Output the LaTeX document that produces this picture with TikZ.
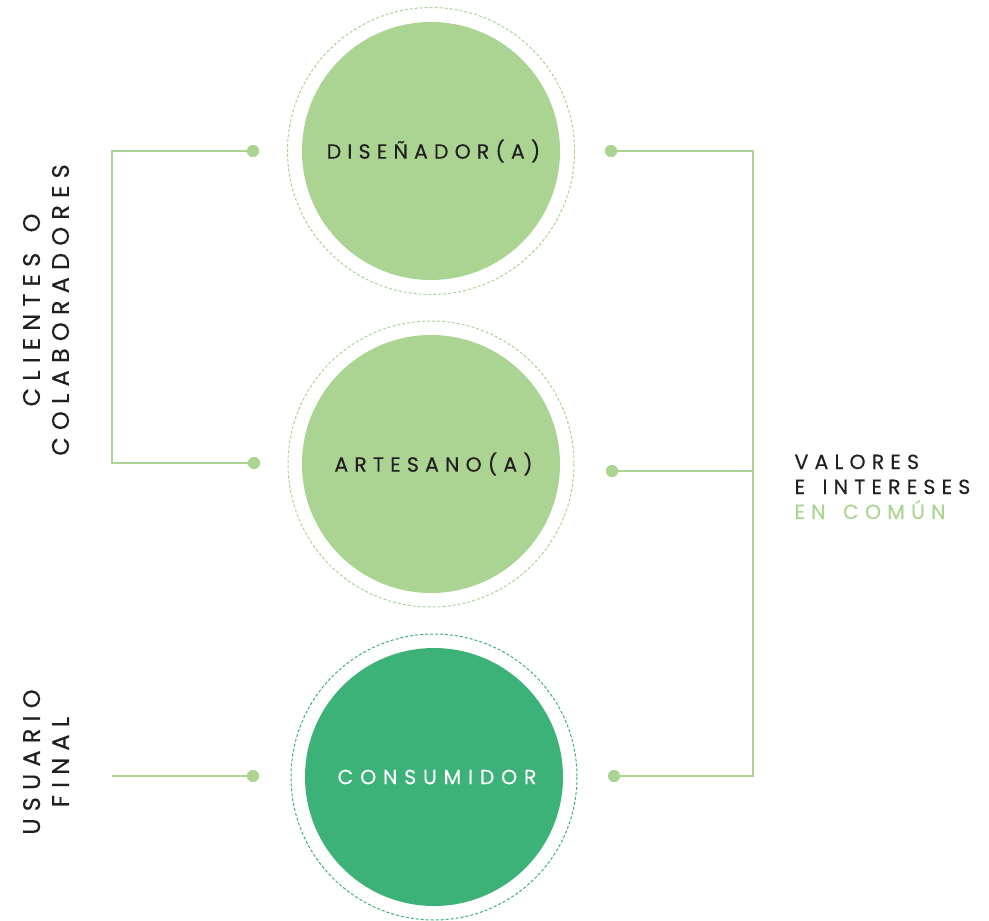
\documentclass[tikz,border=0pt]{standalone}
\usepackage{fontspec}
\setmainfont{Poppins}[LetterSpace=30,WordSpace=1.5,FakeBold=0.3]
\definecolor{lgreen}{HTML}{ABD493}
\definecolor{dgreen}{HTML}{3CB278}
\definecolor{ink}{HTML}{231F20}
\begin{document}
\begin{tikzpicture}[x=1pt,y=-1pt,
  bigc/.style={circle,minimum size=258pt,inner sep=0pt,text=ink,font=\fontsize{20.5}{24}\selectfont},
  ring/.style={draw=lgreen,line width=1pt,dash pattern=on 3pt off 2pt},
  dot/.style={circle,fill=lgreen,minimum size=12pt,inner sep=0pt},
  conn/.style={draw=lgreen,line width=1.5pt},
  side/.style={text=ink,align=center,font=\fontsize{24}{29}\selectfont},
  rside/.style={text=ink,align=left,anchor=north west,font=\fontsize{20.5}{25}\selectfont}]
\useasboundingbox (0,0) rectangle (989,921);
% circles
\node[bigc,fill=lgreen] (dis) at (431,151) {DISEÑADOR(A)\kern-5pt};
\node[bigc,fill=lgreen] (art) at (431,464) {ARTESANO(A)\kern-5pt};
\node[bigc,fill=dgreen,text=white] (con) at (434,777) {\raisebox{-3pt}{\addfontfeature{LetterSpace=33}CONSUMIDOR\kern-6pt}};
\draw[ring] (dis.center) circle (143.5);
\draw[ring] (art.center) circle (143);
\draw[ring,draw=dgreen] (con.center) circle (143);
% dots
\node[dot] (l1) at (253,151) {};
\node[dot] (l2) at (254,463) {};
\node[dot] (l3) at (253,776) {};
\node[dot] (r1) at (611,151) {};
\node[dot] (r2) at (612,471) {};
\node[dot] (r3) at (614,776) {};
\coordinate (lx) at (112,300);
\coordinate (rx) at (753,470);
\coordinate (le) at (112,776);
% connectors
\draw[conn] (l1.center) -| (lx) |- (l2.center);
\draw[conn] (l3.center) -- (le);
\draw[conn] (r1.center) -| (rx) |- (r3.center);
\draw[conn] (r2.center) -- (r2.center -| rx);
\node[dot] at (l1) {};
\node[dot] at (l2) {};
\node[dot] at (l3) {};
\node[dot] at (r1) {};
\node[dot] at (r2) {};
\node[dot] at (r3) {};
% labels
\node[side,rotate=90] (cli) at (46,313) {CLIENTES O\kern-6pt\\COLABORADORES\kern-6pt};
\node[side,rotate=90] (usu) at (46,765) {USUARIO\kern-6pt\\FINAL\kern-6pt};
\node[rside] (val) at (791,451) {VALORES\\E INTERESES\\\textcolor{lgreen}{EN COMÚN}};
\end{tikzpicture}
\end{document}
